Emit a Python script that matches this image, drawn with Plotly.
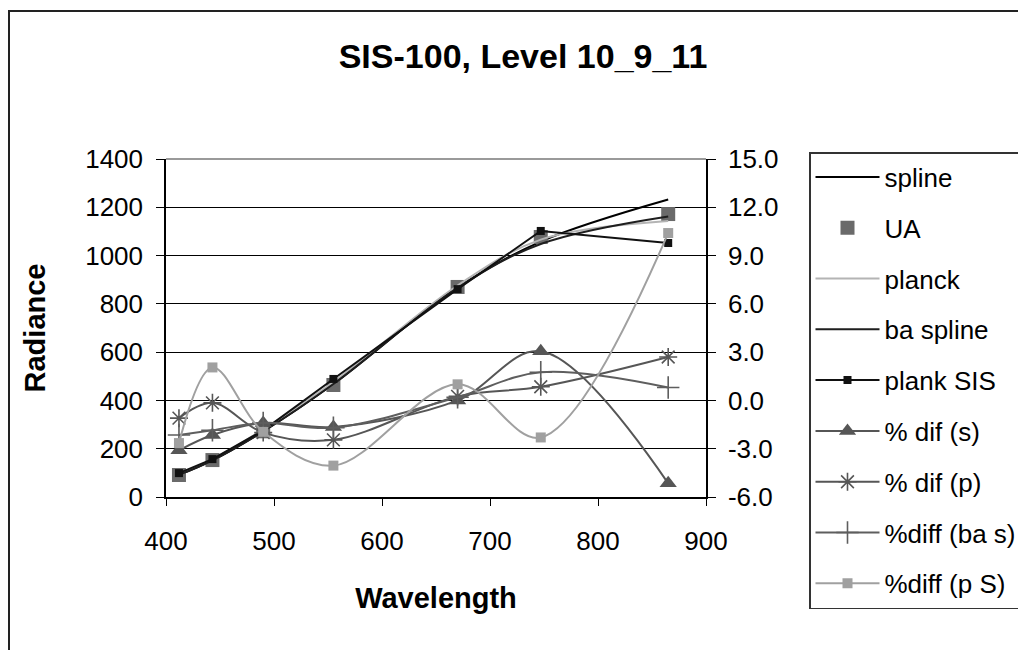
import plotly.graph_objects as go

wavelength = [412, 443, 490, 555, 670, 747, 865]

spline = [92, 152, 272, 468, 868, 1058, 1232]
ua = [91, 153, 272, 464, 870, 1077, 1172]
planck = [95, 156, 280, 476, 876, 1066, 1143]
ba_spline = [92, 152, 272, 468, 866, 1048, 1162]
plank_sis = [99, 157, 276, 489, 861, 1102, 1052]

pct_dif_s = [-3.1, -2.15, -1.4, -1.65, 0.0, 3.05, -5.15]
pct_dif_p = [-1.1, -0.15, -2.0, -2.45, 0.25, 0.85, 2.7]
pct_diff_ba_s = [-2.15, -1.85, -1.4, -1.7, 0.2, 1.75, 0.8]
pct_diff_p_s = [-2.65, 2.05, -1.95, -4.05, 1.0, -2.3, 10.4]

x_ticks = [400, 500, 600, 700, 800, 900]
y_ticks = [0, 200, 400, 600, 800, 1000, 1200, 1400]
y2_ticks = [-6, -3, 0, 3, 6, 9, 12, 15]
y2_labels = [f"{v:.1f}" for v in y2_ticks]

FONT = "Liberation Sans, Arial, sans-serif"

fig = go.Figure()

def add(name, y, axis="y", mode="lines", color="#000", width=2, symbol=None, msize=10,
        mcolor=None, mline=None, shape="spline"):
    kw = dict(x=wavelength, y=y, name=name, mode=mode, yaxis=axis, legendgroup=name,
              line=dict(color=color, width=width, shape=shape, smoothing=1.0))
    if symbol:
        md = dict(symbol=symbol, size=msize, color=mcolor or color)
        if mline:
            md["line"] = mline
        kw["marker"] = md
    fig.add_trace(go.Scatter(**kw))

add("spline", spline, color="#000000")
add("UA", ua, mode="markers", color="#6a6a6a", symbol="square", msize=14)
add("planck", planck, color="#b4b4b4")
add("ba spline", ba_spline, color="#1e1e1e")
add("plank SIS", plank_sis, mode="lines+markers", color="#111111", symbol="square", msize=8,
    shape="linear")
add("% dif (s)", pct_dif_s, axis="y2", mode="lines+markers", color="#565656",
    symbol="triangle-up", msize=15)
add("% dif (p)", pct_dif_p, axis="y2", mode="lines+markers", color="#565656",
    symbol="asterisk-open", msize=15, mline=dict(color="#565656", width=1.6))
add("%diff (ba s)", pct_diff_ba_s, axis="y2", mode="lines+markers", color="#5e5e5e",
    symbol="cross-thin-open", msize=16, mline=dict(color="#5e5e5e", width=1.6))
add("%diff (p S)", pct_diff_p_s, axis="y2", mode="lines+markers", color="#a0a0a0",
    symbol="square", msize=10)

# page has an 8px body margin: figure coordinates = screen - 8
OFF = 8
W, H = 1018, 642
L, T = 166 - OFF, 159 - OFF
pw, ph = 540, 338
R = W - L - pw
B = H - T - ph

def px(sx):
    return (sx - OFF - L) / pw

def py(sy):
    return 1 - (sy - OFF - T) / ph

fig.update_layout(
    width=W, height=H,
    margin=dict(l=L, r=R, t=T, b=B, autoexpand=False),
    paper_bgcolor="white", plot_bgcolor="white",
    font=dict(family=FONT, size=26, color="#000"),
    title=dict(text="<b>SIS-100, Level 10_9_11</b>", x=515 / W, xanchor="center",
               y=1 - 48 / H, yanchor="middle", font=dict(size=34, family=FONT)),
    showlegend=True,
    legend=dict(x=px(809), y=py(152), xanchor="left", yanchor="top",
                bordercolor="#333", borderwidth=1.5, bgcolor="white",
                font=dict(size=26, family=FONT), traceorder="grouped",
                tracegroupgap=14, itemwidth=64, maxheight=500),
    xaxis=dict(range=[400, 900], tickvals=x_ticks, showgrid=False, zeroline=False,
               showline=True, linecolor="#000", linewidth=1.5, ticks="outside",
               ticklen=7, tickcolor="#000", ticklabelstandoff=13,
               title=dict(text="<b>Wavelength</b>", font=dict(size=29, family=FONT), standoff=33)),
    yaxis=dict(range=[0, 1400], tickvals=y_ticks, showgrid=True, gridcolor="#000", gridwidth=1,
               zeroline=False, showline=True, linecolor="#000", linewidth=1.5,
               ticks="outside", ticklen=8, tickcolor="#000", ticklabelstandoff=8,
               title=dict(text="<b>Radiance</b>", font=dict(size=29, family=FONT), standoff=31)),
    yaxis2=dict(range=[-6, 15], tickvals=y2_ticks, ticktext=y2_labels, overlaying="y",
                side="right", showgrid=False, zeroline=False, showline=True,
                linecolor="#000", linewidth=1.5, ticks="outside", ticklen=8,
                tickcolor="#000", ticklabelstandoff=7),
    shapes=[
        dict(type="rect", xref="paper", yref="paper", x0=px(9), x1=px(1100),
             y0=py(700), y1=py(11), line=dict(color="#222", width=2), layer="below"),
        dict(type="line", xref="paper", yref="paper", x0=0, x1=1, y0=1, y1=1,
             line=dict(color="#9a9a9a", width=2)),
    ],
)

fig.write_html("out.html")
